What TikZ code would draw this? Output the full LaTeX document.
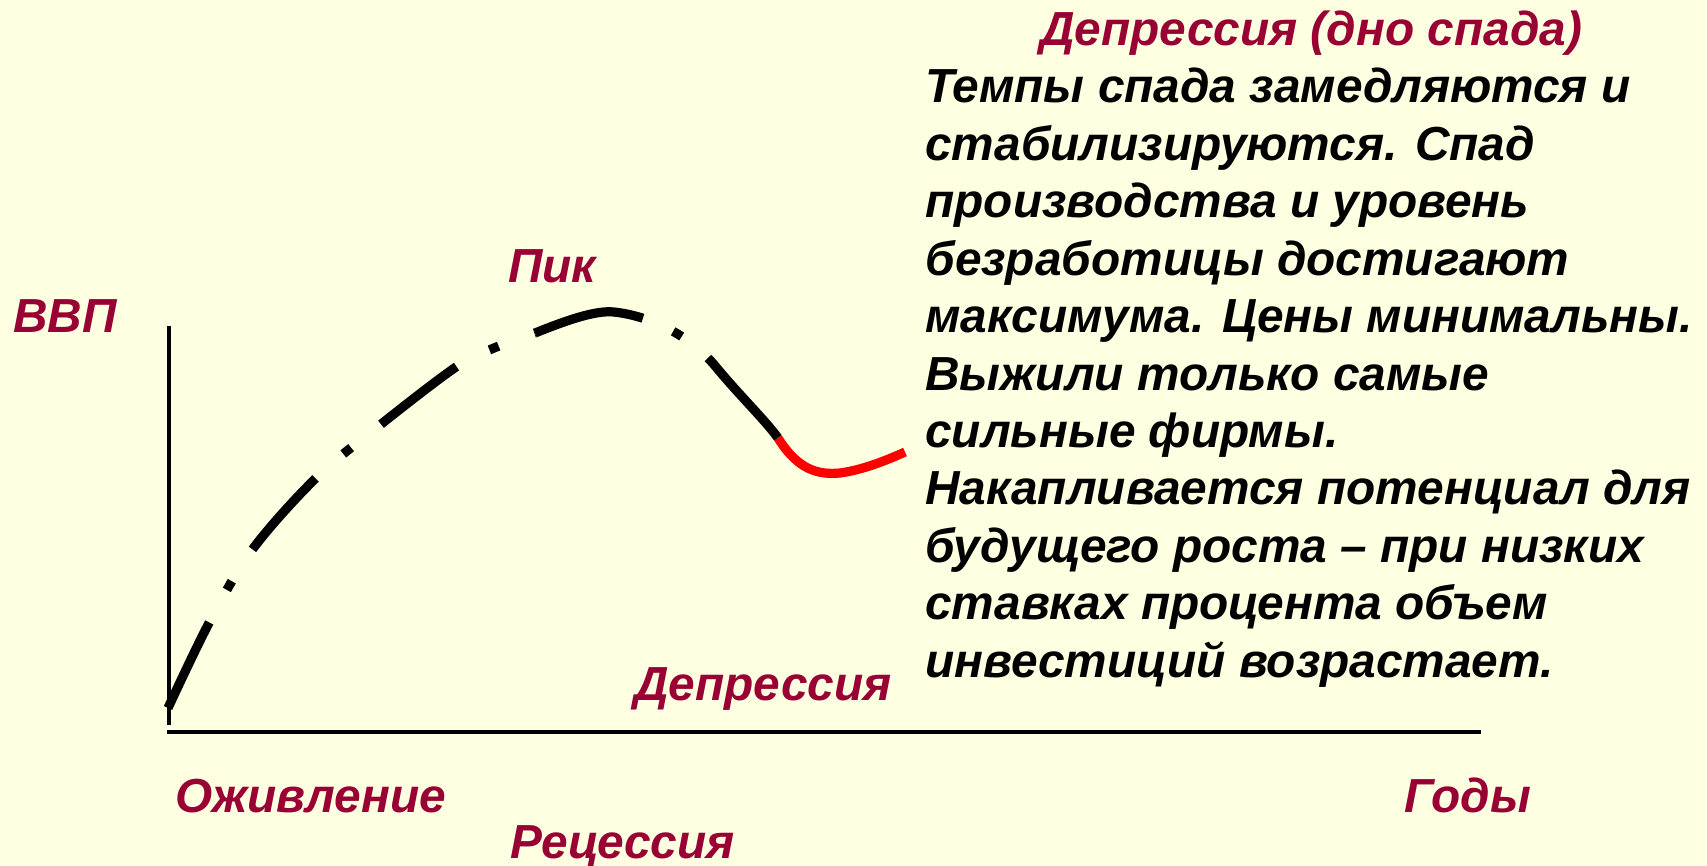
\documentclass[tikz,border=0pt]{standalone}
\usepackage{fontspec}
\setmainfont{Liberation Sans}
\definecolor{bg}{HTML}{FFFFE1}
\definecolor{lab}{HTML}{990033}
\definecolor{redc}{HTML}{FF0000}
\begin{document}
\begin{tikzpicture}[x=0.5pt,y=-0.5pt,
  lbl/.style={font=\fontsize{23.9}{28.7}\selectfont\bfseries\itshape, text=lab, inner sep=0, anchor=base west},
  body/.style={font=\fontsize{23.9}{28.7}\selectfont\bfseries\itshape, text=black, inner sep=0, anchor=base west},
  axis/.style={line width=2pt, black},
  curveblk/.style={line width=4.6pt, black, dash pattern=on 47.5pt off 18.5pt on 5pt off 19pt},
  curveblkb/.style={line width=4.6pt, black, dash pattern=on 56pt off 16.5pt on 5pt off 17pt on 80pt},
  curvered/.style={line width=4.6pt, redc}]
\fill[bg] (0,0) rectangle (1707,866);
\useasboundingbox (0,0) rectangle (1707,866);
% axes
\coordinate (ytop) at (169,326);
\coordinate (orig) at (169,732);
\coordinate (xend) at (1481,732);
\draw[axis] (ytop) -- (169,725);
\draw[axis] (167,732) -- (xend);
% cycle curve
\coordinate (c0) at (168,708);
\coordinate (c4) at (535,333);
\coordinate (rs) at (778,438);
\coordinate (rm) at (840,473);
\coordinate (re) at (905,452);
\draw[curveblk] plot[smooth, tension=0.55] coordinates {(c0) (209,623) (252,550) (316,478) (380,425) (456,367) (494,348) (c4)};
\draw[curveblkb] (c4) .. controls (565,321) and (595,310) .. (614,312) .. controls (650,316) and (690,335) .. (716,367) .. controls (740,396) and (765,420) .. (rs);
\draw[curvered] (rs) .. controls (798,470) and (818,475) .. (rm) .. controls (862,470) and (885,461) .. (re);
% labels
\node[lbl] (vvp) at (13,332) {ВВП};
\node[lbl] (pik) at (508,283) {Пик};
\node[lbl] (dep) at (634,700) {Депрессия};
\node[lbl] (ozh) at (175,812) {Оживление};
\node[lbl] (rec) at (510,858) {Рецессия};
\node[lbl] (gody) at (1404,812) {Годы};
\node[lbl] (title) at (1040,46) {Депрессия (дно спада)};
% body text
\foreach \t [count=\i from 0] in {Темпы спада замедляются и,
  стабилизируются. Спад,
  производства и уровень,
  безработицы достигают,
  максимума. Цены минимальны.,
  Выжили только самые,
  сильные фирмы.,
  Накапливается потенциал для,
  будущего роста – при низких,
  ставках процента объем,
  инвестиций возрастает.}
  \node[body] (b\i) at (925,{103+57.4*\i}) {\t};
\end{tikzpicture}
\end{document}
